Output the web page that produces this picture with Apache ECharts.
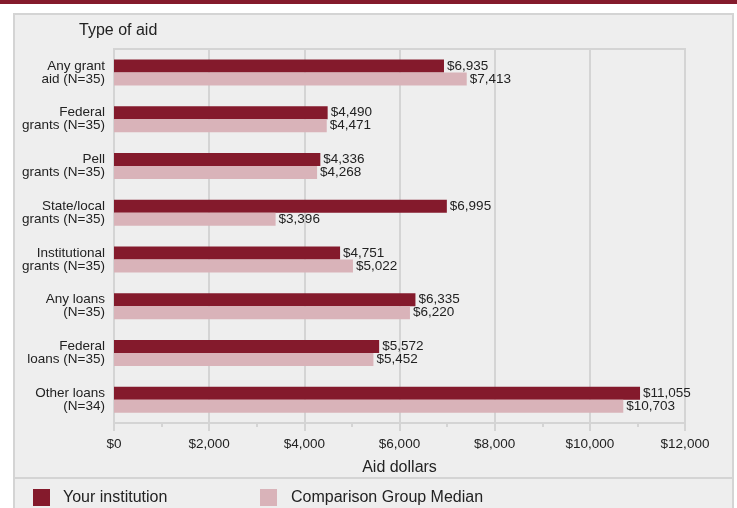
<!DOCTYPE html>
<html><head><meta charset="utf-8">
<script src="https://cdn.jsdelivr.net/npm/echarts@6/dist/echarts.min.js"></script>
<style>html,body{margin:0;padding:0;background:#fff;}#c{width:737px;height:508px;}</style>
</head><body><div id="c"></div>
<script>
const categories = ["Any grant\naid (N=35)","Federal\ngrants (N=35)","Pell\ngrants (N=35)","State/local\ngrants (N=35)","Institutional\ngrants (N=35)","Any loans\n(N=35)","Federal\nloans (N=35)","Other loans\n(N=34)"];
const yourInstitution = [6935,4490,4336,6995,4751,6335,5572,11055];
const comparisonMedian = [7413,4471,4268,3396,5022,6220,5452,10703];
const seriesNames = ["Your institution","Comparison Group Median"];
const xTicks = {min:0,max:12000,interval:2000};

const FONT = "'Liberation Sans', Arial, sans-serif";
const DARK = '#841a2c', LIGHT = '#d9b3b9', GRID = '#d4d4d4', TXT = '#222';
const fmt = v => '$' + Number(v).toLocaleString('en-US');

const chart = echarts.init(document.getElementById('c'), null, {renderer:'canvas'});
chart.setOption({
  backgroundColor:'#fff',
  animation:false,
  textStyle:{fontFamily:FONT},
  graphic:[
    {type:'rect',z:-10,shape:{x:0,y:0,width:737,height:4},style:{fill:DARK}},
    {type:'rect',z:-10,shape:{x:14,y:14,width:719,height:510},style:{fill:'#eeeeee',stroke:GRID,lineWidth:2}},
    {type:'line',z:-9,shape:{x1:14,y1:478,x2:733,y2:478},style:{stroke:GRID,lineWidth:2}}
  ],
  title:{text:'Type of aid',left:74,top:18,textStyle:{fontSize:16,fontWeight:'normal',color:TXT,fontFamily:FONT}},
  legend:[
    {data:[seriesNames[0]],left:28,top:484,itemWidth:17,itemHeight:17,icon:'rect',
     textStyle:{fontSize:16,color:TXT,fontFamily:FONT,padding:[0,0,0,8]}},
    {data:[seriesNames[1]],left:255,top:484,itemWidth:17,itemHeight:17,icon:'rect',
     textStyle:{fontSize:16,color:TXT,fontFamily:FONT,padding:[0,0,0,9]}}
  ],
  grid:{left:114,right:52,top:49,bottom:85,show:true,borderColor:GRID,borderWidth:2,containLabel:false},
  xAxis:{type:'value',min:xTicks.min,max:xTicks.max,interval:xTicks.interval,
    name:'Aid dollars',nameLocation:'middle',nameGap:37,
    nameTextStyle:{fontSize:16,color:TXT,fontFamily:FONT},
    axisLine:{show:true,lineStyle:{color:GRID,width:2}},
    axisTick:{show:true,length:8,lineStyle:{color:GRID,width:2}},
    minorTick:{show:true,splitNumber:2,length:4,lineStyle:{color:GRID,width:2}},
    splitLine:{show:true,lineStyle:{color:GRID,width:2}},
    axisLabel:{formatter:fmt,fontSize:13.5,color:TXT,margin:14,fontFamily:FONT}},
  yAxis:{type:'category',data:categories,inverse:true,
    axisLine:{show:true,lineStyle:{color:GRID,width:2}},
    axisTick:{show:false},
    axisLabel:{fontSize:13.5,color:TXT,margin:9,align:'right',lineHeight:13,fontFamily:FONT}},
  series:[
    {name:seriesNames[0],type:'bar',data:yourInstitution,barWidth:13,barGap:'0%',
     itemStyle:{color:DARK},
     label:{show:true,position:'right',distance:3,formatter:p=>fmt(p.value),fontSize:13.5,color:TXT,fontFamily:FONT}},
    {name:seriesNames[1],type:'bar',data:comparisonMedian,barWidth:13,barGap:'0%',
     itemStyle:{color:LIGHT},
     label:{show:true,position:'right',distance:3,formatter:p=>fmt(p.value),fontSize:13.5,color:TXT,fontFamily:FONT}}
  ]
});
</script></body></html>
